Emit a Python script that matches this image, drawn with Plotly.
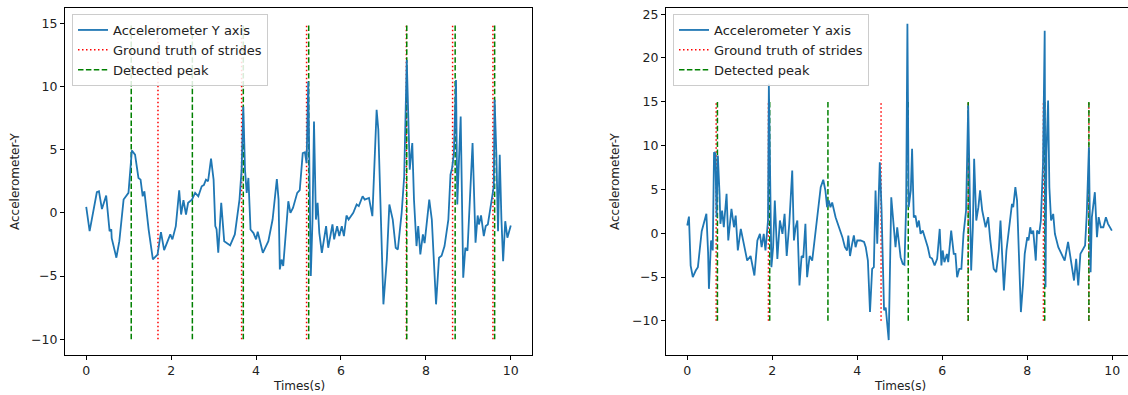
import plotly.graph_objects as go

# ---------------- data ----------------
left_t = [0.00, 0.08, 0.25, 0.30, 0.37, 0.47, 0.55, 0.59, 0.60, 0.71, 0.78, 0.88, 0.995, 1.075, 1.15, 1.23, 1.28, 1.33, 1.37,
          1.47, 1.57, 1.68, 1.76, 1.835, 1.98, 2.03, 2.11, 2.19, 2.235, 2.29, 2.35, 2.40, 2.49, 2.565, 2.64, 2.72, 2.77,
          2.82, 2.87, 2.94, 3.00, 3.04, 3.07, 3.11, 3.18, 3.25, 3.39, 3.50, 3.61, 3.66, 3.70, 3.74, 3.78, 3.82, 3.87,
          3.94, 4.00, 4.04, 4.16, 4.29, 4.39, 4.49, 4.53, 4.56, 4.60, 4.64, 4.76, 4.81, 4.87, 4.97, 5.03, 5.10, 5.15,
          5.19, 5.23, 5.27, 5.29, 5.33, 5.365, 5.41, 5.45, 5.49, 5.55, 5.65, 5.70, 5.80, 5.84, 5.91, 5.96, 6.02, 6.07,
          6.13, 6.18, 6.29, 6.37, 6.42, 6.51, 6.56, 6.66, 6.74, 6.84, 6.88, 7.00, 7.08, 7.14, 7.22, 7.29, 7.34, 7.43,
          7.49, 7.55, 7.62, 7.68, 7.72, 7.78, 7.82, 7.87, 7.93, 7.97, 8.08, 8.14, 8.24, 8.31, 8.37, 8.44, 8.53, 8.58,
          8.62, 8.66, 8.71, 8.74, 8.78, 8.82, 8.88, 8.93, 8.98, 9.10, 9.17, 9.22, 9.25, 9.30, 9.365, 9.41, 9.46, 9.55,
          9.60, 9.62, 9.66, 9.70, 9.74, 9.78, 9.82, 9.87, 9.92, 10.00]
left_y = [0.47, -1.45, 1.63, 1.70, 0.30, 1.37, -1.45, -1.30, -2.0, -3.55, -2.24, 1.05, 1.58, 4.94, 4.6, 2.76, 2.63, 1.31, 1.70,
          -1.32, -3.69, -3.3, -1.53, -2.95, -1.71, -2.10, -1.05, 1.79, -0.13, 1.0, -0.13, 0.8, 1.05, 1.58, 1.31, 2.10, 2.20,
          2.63, 2.50, 4.29, 2.63, -1.05, -1.30, -3.16, 0.79, -2.24, -2.58, -1.71, 1.05, 3.42, 8.41, 3.40, 1.58, 2.76, -1.32,
          -1.60, -2.10, -1.50, -3.16, -2.24, -0.53, 2.68, 1.05, -4.48, -3.70, -4.20, 0.92, 0.00, 0.39, 1.58, 1.80, 4.73, 4.80,
          3.94, 10.39, 2.10, -5.00, -0.53, 7.23, -0.53, 0.79, -1.58, -3.16, -1.05, -2.76, -0.92, -2.10, -1.05, -1.84, -1.05, -1.84,
          -0.21, -0.53, 0.00, 0.66, 0.53, 1.31, 1.05, 1.18, -0.26, 8.15, 6.60, -7.24, -3.69, 0.66, -0.53, -2.76, -2.90, 0.00,
          2.89, 12.10, 3.42, 5.52, 1.05, -2.63, -1.05, -3.29, -1.70, -2.40, 1.05, -0.53, -7.24, -3.55, -3.40, -2.63, -0.53, 3.02,
          3.60, 4.70, 10.52, 0.66, 4.20, 7.63, -5.13, -2.76, -3.00, 5.52, -2.37, -0.21, -0.92, -0.21, -1.84, -1.05, -0.92, 1.05,
          2.10, 8.94, 4.70, -1.45, 4.60, -0.53, -3.82, -0.66, -1.97, -1.00]
left_truth = [1.69, 3.66, 5.19, 7.54, 8.63, 9.58]
left_detected = [1.06, 2.50, 3.70, 5.24, 7.55, 8.69, 9.62]

right_t = [0.00, 0.04, 0.08, 0.13, 0.20, 0.25, 0.34, 0.41, 0.45, 0.49, 0.51, 0.56, 0.60, 0.63, 0.66, 0.69, 0.72, 0.76, 0.78,
           0.82, 0.86, 0.925, 0.965, 1.04, 1.10, 1.14, 1.19, 1.26, 1.33, 1.41, 1.49, 1.58, 1.65, 1.71, 1.75, 1.80, 1.84,
           1.90, 1.92, 1.94, 1.98, 2.02, 2.06, 2.12, 2.18, 2.24, 2.29, 2.34, 2.40, 2.47, 2.51, 2.55, 2.59, 2.64, 2.69,
           2.73, 2.78, 2.82, 2.88, 2.94, 2.995, 3.06, 3.14, 3.20, 3.25, 3.29, 3.33, 3.37, 3.41, 3.49, 3.57, 3.65, 3.71,
           3.76, 3.79, 3.83, 3.88, 3.92, 3.96, 4.00, 4.08, 4.16, 4.20, 4.25, 4.30, 4.35, 4.39, 4.43, 4.47, 4.53, 4.57,
           4.63, 4.67, 4.74, 4.80, 4.85, 4.90, 4.94, 5.02, 5.07, 5.11, 5.15, 5.18, 5.21, 5.26, 5.29, 5.33, 5.37, 5.41,
           5.45, 5.49, 5.54, 5.61, 5.66, 5.71, 5.76, 5.82, 5.88, 5.94, 5.98, 6.01, 6.05, 6.11, 6.14, 6.21, 6.27, 6.31,
           6.35, 6.40, 6.45, 6.50, 6.56, 6.61, 6.64, 6.68, 6.72, 6.75, 6.80, 6.85, 6.89, 6.94, 7.02, 7.08, 7.13, 7.21,
           7.27, 7.33, 7.37, 7.41, 7.45, 7.51, 7.56, 7.60, 7.64, 7.67, 7.72, 7.76, 7.80, 7.85, 7.90, 7.94, 8.00, 8.03,
           8.07, 8.10, 8.14, 8.20, 8.23, 8.28, 8.32, 8.37, 8.41, 8.43, 8.45, 8.49, 8.52, 8.56, 8.61, 8.65, 8.73, 8.81,
           8.88, 8.96, 9.00, 9.10, 9.15, 9.20, 9.25, 9.30, 9.36, 9.40, 9.45, 9.49, 9.52, 9.59, 9.64, 9.68, 9.73, 9.79,
           9.85, 9.90, 9.99]
right_y = [0.88, 1.90, -3.69, -5.00, -4.26, -3.88, 0.23, 1.45, 2.21, -2.17, -6.35, -0.83, -1.97, 9.25, 9.10, 1.83, 8.87, 4.50, 1.07,
           2.59, 0.68, 4.50, -0.83, 2.78, 0.68, 2.02, -1.97, 0.49, -1.20, -3.12, -2.60, -4.83, -0.83, -0.07, -1.60, -0.07, -1.97,
           1.45, 17.05, 9.06, -3.88, -1.60, 3.73, -2.93, 1.45, -0.07, 2.21, -2.60, 1.07, 7.16, -0.83, 0.68, 1.45, -5.97, -2.60,
           -2.80, 1.07, -5.02, -2.60, -3.12, -0.83, 1.83, 5.25, 6.10, 4.88, 2.97, 3.73, 2.97, 3.50, 1.83, 0.68, -0.45, -1.60,
           -1.97, -0.26, -2.60, -1.20, -0.26, -1.60, -0.83, -0.83, -1.00, -1.60, -3.12, -9.00, -4.07, -3.88, 4.87, -1.20, 8.10, 2.97,
           -8.80, -8.50, -12.20, 4.10, 1.07, -1.60, 0.68, -2.74, -3.50, -3.60, 3.0, 23.90, 2.97, 4.90, 9.63, 1.80, 2.00, 0.68,
           1.45, -0.07, 0.30, -0.83, -1.60, -2.74, -2.90, -3.69, -2.93, 0.49, -3.69, -1.97, -3.31, -2.36, -3.31, 0.30, -2.36, -2.36,
           -5.02, -4.07, -4.07, -0.07, 2.59, 14.58, 4.50, -4.26, 0.68, 8.49, 1.45, 2.97, 4.88, 2.59, 0.68, 1.83, -0.83, -4.07,
           -4.45, -1.97, 1.45, -3.12, -6.54, -1.97, -0.07, 1.83, 3.35, 2.97, 5.25, 3.73, -2.74, -9.00, -5.78, -2.36, -0.45, -0.83,
           0.68, -0.07, 0.30, -3.12, 0.30, -0.07, 1.45, 7.92, 23.10, -6.16, 9.06, 15.15, 5.25, 1.45, 2.20, -0.07, -1.60, -2.36,
           -3.12, -1.00, -2.40, -5.40, -2.93, -5.97, -2.36, -1.97, -1.40, 2.20, 9.82, -4.45, 1.83, 4.68, -0.45, 1.83, 0.68, 0.68,
           1.83, 1.07, 0.30]
right_truth = [0.68, 1.91, 4.56, 6.61, 8.38, 9.45]
right_detected = [0.71, 1.94, 3.31, 5.20, 6.61, 8.41, 9.45]

VLINE_LOW = -10
VLINE_HIGH = 15

x_ticks = [0, 2, 4, 6, 8, 10]
left_y_ticks = [-10, -5, 0, 5, 10, 15]
right_y_ticks = [-10, -5, 0, 5, 10, 15, 20, 25]

SERIES_NAME = "Accelerometer Y axis"
TRUTH_NAME = "Ground truth of strides"
DETECT_NAME = "Detected peak"
X_TITLE = "Times(s)"
Y_TITLE = "Accelerometer-Y"


def vlines(xs):
    xx, yy = [], []
    for v in xs:
        xx += [v, v, None]
        yy += [VLINE_LOW, VLINE_HIGH, None]
    return xx, yy


FONT = "DejaVu Sans, Verdana, sans-serif"
BLUE = "#1f77b4"
RED = "#ff0000"
GREEN = "#008000"

fig = go.Figure()

panels = [
    (left_t, left_y, left_truth, left_detected, "x", "y", "legend"),
    (right_t, right_y, right_truth, right_detected, "x2", "y2", "legend2"),
]
for t, y, truth, det, xa, ya, lg in panels:
    tx, ty = vlines(truth)
    fig.add_trace(go.Scatter(x=tx, y=ty, mode="lines", name=TRUTH_NAME, legendrank=2,
                             line=dict(color=RED, width=1.5, dash="1.5px,2.5px"),
                             xaxis=xa, yaxis=ya, legend=lg, connectgaps=False))
    dx, dy = vlines(det)
    fig.add_trace(go.Scatter(x=dx, y=dy, mode="lines", name=DETECT_NAME, legendrank=3,
                             line=dict(color=GREEN, width=1.5, dash="5.5px,2.4px"),
                             xaxis=xa, yaxis=ya, legend=lg, connectgaps=False))
    fig.add_trace(go.Scatter(x=t, y=y, mode="lines", name=SERIES_NAME, legendrank=1,
                             line=dict(color=BLUE, width=1.8), xaxis=xa, yaxis=ya, legend=lg))

W, H = 1128, 395
top_px, bot_px = 7.5, 355
ydom = [1 - bot_px / H, 1 - top_px / H]

axis_common = dict(showgrid=False, zeroline=False, showline=True, linecolor="black", linewidth=1,
                   ticks="outside", ticklen=4, tickwidth=1, tickcolor="black",
                   tickfont=dict(family=FONT, size=12.5, color="#222"), automargin=False)

fig.update_layout(
    width=W, height=H,
    margin=dict(l=0, r=0, t=0, b=0),
    paper_bgcolor="white", plot_bgcolor="white",
    font=dict(family=FONT, color="#222"),
    xaxis=dict(domain=[65 / W, 532 / W], range=[-0.5, 10.5], tickvals=x_ticks, mirror=True, anchor="y", **axis_common),
    yaxis=dict(domain=ydom, range=[-11.25, 16.25], tickvals=left_y_ticks, mirror=True, anchor="x", **axis_common),
    xaxis2=dict(domain=[666 / W, 1.0], range=[-0.5, 10.37], tickvals=x_ticks, mirror=True, anchor="y2", **axis_common),
    yaxis2=dict(domain=ydom, range=[-13.9, 25.76], tickvals=right_y_ticks, mirror=False, anchor="x2", **axis_common),
    legend=dict(x=72 / W, y=1 - 14 / H, xanchor="left", yanchor="top", traceorder="normal",
                bgcolor="rgba(255,255,255,0.85)", bordercolor="#cccccc", borderwidth=1,
                font=dict(family=FONT, size=13, color="#222"), tracegroupgap=0),
    legend2=dict(x=673 / W, y=1 - 14 / H, xanchor="left", yanchor="top", traceorder="normal",
                 bgcolor="rgba(255,255,255,0.85)", bordercolor="#cccccc", borderwidth=1,
                 font=dict(family=FONT, size=13, color="#222"), tracegroupgap=0),
    showlegend=True,
)

ann_font = dict(family=FONT, size=12, color="#222")
fig.add_annotation(text=X_TITLE, x=(65 + 532) / 2 / W, y=1 - 386 / H, xref="paper", yref="paper",
                   showarrow=False, font=ann_font, xanchor="center", yanchor="middle")
fig.add_annotation(text=X_TITLE, x=(666 + 1133) / 2 / W, y=1 - 386 / H, xref="paper", yref="paper",
                   showarrow=False, font=ann_font, xanchor="center", yanchor="middle")
fig.add_annotation(text=Y_TITLE, x=15 / W, y=1 - 181 / H, xref="paper", yref="paper", textangle=-90,
                   showarrow=False, font=ann_font, xanchor="center", yanchor="middle")
fig.add_annotation(text=Y_TITLE, x=615 / W, y=1 - 181 / H, xref="paper", yref="paper", textangle=-90,
                   showarrow=False, font=ann_font, xanchor="center", yanchor="middle")

fig.write_html("out.html")
